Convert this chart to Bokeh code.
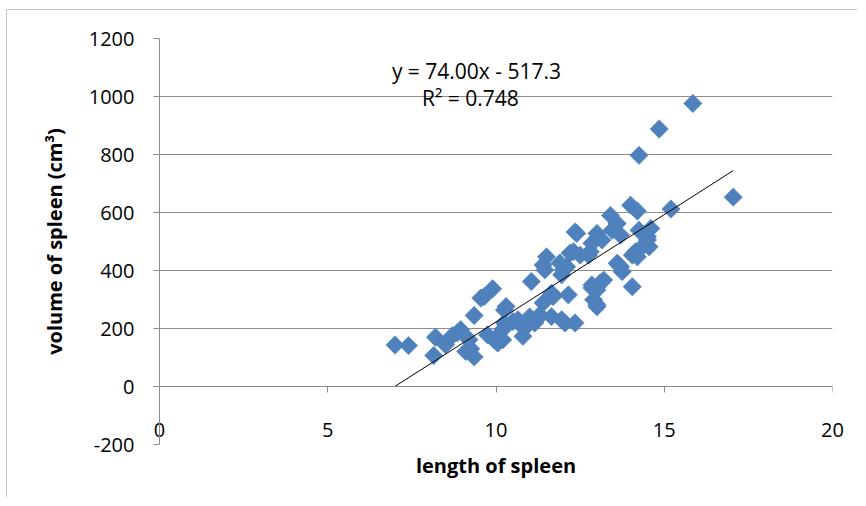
from bokeh.plotting import figure
from bokeh.models import LinearAxis, FixedTicker, Range1d, Label, ColumnDataSource
from bokeh.embed import file_html
from bokeh.resources import INLINE
import numpy as np

# spleen length (cm) and spleen volume (cm^3)
length = [7.0, 7.4, 8.2, 8.15, 8.5, 8.7, 8.85, 8.95, 9.1, 9.2,
          9.35, 9.25, 9.35, 9.55, 9.9, 9.65, 9.75, 9.95, 10.05, 10.2,
          10.25, 10.3, 10.25, 10.5, 10.65, 10.8, 10.9, 10.2, 11.05, 11.2,
          11.15, 11.3, 11.4, 11.5, 11.45, 11.4, 11.65, 11.7, 11.65, 11.95,
          12.05, 12.35, 12.15, 12.0, 11.95, 11.9, 12.1, 12.2, 12.3, 12.5,
          12.35, 12.4, 12.8, 12.75, 12.85, 12.85, 12.85, 13.1, 13.2, 13.0,
          12.9, 13.0, 13.0, 13.0, 13.15, 13.4, 13.6, 13.45, 13.7, 13.6,
          13.75, 13.65, 14.0, 14.2, 14.05, 14.25, 14.6, 14.5, 14.4, 14.15,
          14.05, 14.55, 14.2, 14.5, 15.2, 15.85, 14.85, 14.25, 17.05, 11.0,
          10.75, 13.7]
volume = [143, 141, 170, 107, 144, 175, 185, 196, 121, 161,
          102, 130, 245, 305, 337, 310, 178, 161, 150, 196,
          264, 276, 219, 224, 230, 173, 207, 161, 362, 230,
          219, 247, 288, 447, 402, 419, 241, 310, 322, 230,
          219, 219, 316, 402, 385, 426, 413, 460, 465, 453,
          533, 528, 465, 453, 494, 340, 350, 357, 367, 282,
          299, 275, 333, 528, 505, 590, 562, 539, 522, 425,
          396, 419, 625, 605, 344, 539, 545, 516, 488, 465,
          453, 482, 447, 505, 612, 976, 888, 797, 653, 240,
          210, 413]

slope = 74.00
intercept = -517.3
r_squared = 0.748

x_ticks = [0, 5, 10, 15, 20]
y_ticks = [-200, 0, 200, 400, 600, 800, 1000, 1200]

FONT = "Open Sans"
GRAY = "#8c8c8c"

p = figure(width=851, height=488,
           x_range=Range1d(0, 20), y_range=Range1d(-200, 1200),
           output_backend="svg", toolbar_location=None,
           min_border_left=152, min_border_right=26,
           min_border_top=28, min_border_bottom=54)
p.styles = {"margin-left": "6px", "margin-top": "9px",
            "border-left": "1px solid #c4c4c4", "border-top": "1px solid #c4c4c4"}
p.outline_line_color = None
p.background_fill_color = "white"
p.border_fill_color = "white"

# grid
p.xgrid.visible = False
p.ygrid.ticker = FixedTicker(ticks=y_ticks)
p.ygrid.grid_line_color = GRAY
p.ygrid.grid_line_width = 1

# y axis
ya = p.yaxis[0]
ya.ticker = FixedTicker(ticks=y_ticks)
ya.major_label_overrides = {t: str(t) for t in y_ticks}
ya.axis_line_color = GRAY
ya.major_tick_line_color = GRAY
ya.major_tick_out = 6
ya.major_tick_in = 0
ya.minor_tick_line_color = None
ya.major_label_standoff = 19
ya.major_label_text_font = FONT
ya.major_label_text_font_size = "20px"
ya.major_label_text_color = "black"
ya.axis_label = "volume of spleen (cm³)"
ya.axis_label_text_font = FONT
ya.axis_label_text_font_style = "bold"
ya.axis_label_text_font_size = "20px"
ya.axis_label_text_color = "black"
ya.axis_label_standoff = 18

# x axis: tick labels and title, below the plot area
xa = p.xaxis[0]
xa.ticker = FixedTicker(ticks=x_ticks)
xa.axis_line_color = None
xa.major_tick_line_color = None
xa.minor_tick_line_color = None
xa.major_tick_out = 0
xa.major_tick_in = 0
xa.major_label_standoff = -22
xa.major_label_text_font = FONT
xa.major_label_text_font_size = "20px"
xa.major_label_text_color = "black"
xa.axis_label = "length of spleen"
xa.axis_label_text_font = FONT
xa.axis_label_text_font_style = "bold"
xa.axis_label_text_font_size = "20px"
xa.axis_label_text_color = "black"
xa.axis_label_standoff = 12

# x axis line and ticks crossing at y = 0
x0 = LinearAxis(ticker=FixedTicker(ticks=x_ticks), fixed_location=0)
x0.axis_line_color = GRAY
x0.major_tick_line_color = GRAY
x0.minor_tick_line_color = None
x0.major_tick_out = 6
x0.major_tick_in = 0
x0.major_label_text_color = None
x0.major_label_text_font_size = "1px"
p.add_layout(x0, "below")

# scatter
src = ColumnDataSource(data=dict(x=length, y=volume))
p.scatter("x", "y", source=src, marker="square", size=13, angle=np.pi / 4,
          fill_color="#4F81BD", line_color="#4F81BD", line_width=0.5)

# linear trendline
tx = np.array([min(length), max(length)])
p.line(tx, slope * tx + intercept, line_color="black", line_width=1)

sign = "-" if intercept < 0 else "+"
p.add_layout(Label(x=9.42, y=1088, text=f"y = {slope:.2f}x {sign} {abs(intercept):.1f}",
                   text_align="center", text_baseline="alphabetic",
                   text_font=FONT, text_font_size="21px", text_color="black"))
p.add_layout(Label(x=9.24, y=995, text=f"R² = {r_squared:.3f}",
                   text_align="center", text_baseline="alphabetic",
                   text_font=FONT, text_font_size="21px", text_color="black"))

open("out.html", "w").write(file_html(p, INLINE))
